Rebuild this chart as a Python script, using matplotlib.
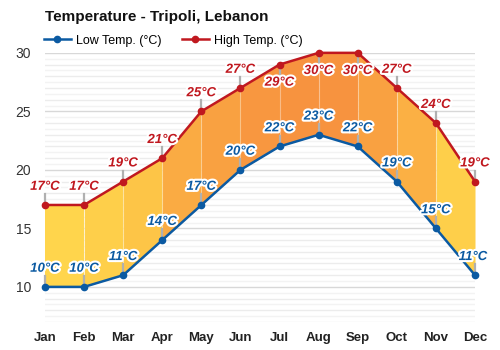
import numpy as np
import matplotlib
matplotlib.use('Agg')
import matplotlib.pyplot as plt
import matplotlib.patheffects as pe
from matplotlib.colors import LinearSegmentedColormap, Normalize

plt.rcParams['font.family'] = ['Liberation Sans', 'DejaVu Sans']

months = ['Jan', 'Feb', 'Mar', 'Apr', 'May', 'Jun', 'Jul', 'Aug', 'Sep', 'Oct', 'Nov', 'Dec']
low = [10, 10, 11, 14, 17, 20, 22, 23, 22, 19, 15, 11]
high = [17, 17, 19, 21, 25, 27, 29, 30, 30, 27, 24, 19]

low_col = '#0b5aa2'
high_col = '#c0181f'
cmap = LinearSegmentedColormap.from_list(
    'temp', ['#ffd54c', '#fecb48', '#fbb244', '#f9a241', '#f7933f'])
norm = Normalize(17, 30)

x = np.arange(len(months))

fig = plt.figure(figsize=(5, 3.5), dpi=100)
ax = fig.add_axes([0.09, 0.08, 0.86, 0.769])

# grid, fine lines every half degree
for v in np.arange(7, 30.5, 0.5):
    if v % 5 == 0:
        col = '#d8d8d8'
    elif v % 1 == 0:
        col = '#ececec'
    else:
        col = '#f3f3f3'
    ax.axhline(v, color=col, lw=1, zorder=0)

# filled band, one piece per month interval
for i in range(len(x) - 1):
    c = cmap(norm(high[i + 1]))
    ax.fill_between(x[i:i + 2], low[i:i + 2], high[i:i + 2], color=c, lw=0, zorder=1)
for i in range(1, len(x) - 1):
    ax.plot([x[i], x[i]], [low[i], high[i]], color='white', alpha=0.35, lw=0.8, zorder=1.5)

ax.plot(x, low, color=low_col, lw=1.8, marker='o', ms=4.5, zorder=4, clip_on=False,
        label='Low Temp. (°C)')
ax.plot(x, high, color=high_col, lw=1.8, marker='o', ms=4.5, zorder=4, clip_on=False,
        label='High Temp. (°C)')

stroke = [pe.withStroke(linewidth=3, foreground='white')]

def label(xi, yi, txt, col, below=False, dx=0.0):
    off = -1.55 if below else 1.55
    ax.plot([xi, xi], [yi, yi + off * 0.6], color='#b0b0b0', lw=1.6, zorder=2, clip_on=False)
    ax.text(xi + dx, yi + off, txt, color=col, fontsize=9.5, fontweight='bold', style='italic',
            ha='center', va='center', zorder=5, path_effects=stroke, clip_on=False)

for i in x:
    label(i, high[i], f'{high[i]}°C', high_col, below=high[i] >= 29)
    label(i, low[i], f'{low[i]}°C', low_col, dx=-0.05 if i == 11 else 0.0)

ax.set_xlim(0, 11)
ax.set_ylim(7, 30)
ax.set_xticks(x)
ax.set_xticklabels(months, fontweight='bold', fontsize=9.5, color='#222222')
ax.set_yticks([10, 15, 20, 25, 30])
ax.tick_params(axis='y', labelsize=10, colors='#333333', length=0, pad=10)
ax.tick_params(axis='x', length=0, pad=7)
for s in ax.spines.values():
    s.set_visible(False)

fig.text(0.09, 0.95, 'Temperature - Tripoli, Lebanon', fontsize=11, fontweight='bold',
         ha='left', va='center', color='#111111')
ax.legend(loc='lower left', bbox_to_anchor=(-0.015, 1.005), ncol=2, frameon=False,
          fontsize=9, handlelength=2.2, columnspacing=1.6, borderaxespad=0,
          handletextpad=0.4)

fig.savefig('out.png', dpi=100)
